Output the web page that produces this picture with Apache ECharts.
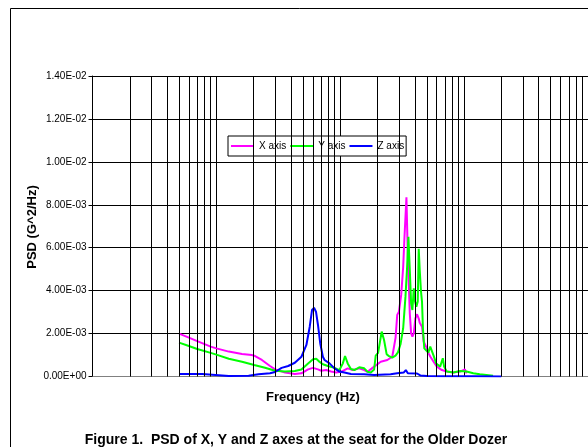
<!DOCTYPE html>
<html>
<head>
<meta charset="utf-8">
<script src="https://cdn.jsdelivr.net/npm/echarts@6/dist/echarts.min.js"></script>
<style>
html,body{margin:0;padding:0;background:#fff;}
#chart{width:588px;height:447px;}
</style>
</head>
<body>
<div id="chart"></div>
<script>
// ---- data (frequency in Hz, PSD in G^2/Hz) ----
const seriesNames = ['X axis', 'Y axis', 'Z axis'];

const xFreq = [0.5,0.6,0.7,0.9,1.0,1.26,1.61,1.93,2.02,2.33,2.71,2.98,3.58,4.30,4.86,5.50,6.03,6.61,7.02,7.70,8.44,9.26,10.15,11.48,12.59,14.24,15.62,16.60,18.78,21.21,23.99,26.30,27.14,27.95,28.84,29.76,30.65,31.05,32.21,33.00,34.22,35.12,36.43,37.33,38.23,39.23,40.40,41.69,43.01,43.81,45.71,47.16,48.57,50.12,51.71,53.26,54.95,56.69,60.26,66.07,72.44,81.94,92.56,101.5,104.7];
const xPSD = [2.00e-3,1.81e-3,1.65e-3,1.39e-3,1.31e-3,1.16e-3,1.05e-3,1.00e-3,0.97e-3,0.77e-3,0.49e-3,0.33e-3,0.19e-3,0.12e-3,0.15e-3,0.33e-3,0.40e-3,0.33e-3,0.27e-3,0.30e-3,0.23e-3,0.19e-3,0.22e-3,0.38e-3,0.30e-3,0.38e-3,0.30e-3,0.22e-3,0.46e-3,0.69e-3,0.77e-3,0.92e-3,1.00e-3,1.80e-3,2.87e-3,3.02e-3,3.10e-3,3.80e-3,5.10e-3,6.50e-3,8.35e-3,5.60e-3,2.94e-3,2.01e-3,1.86e-3,2.01e-3,2.71e-3,2.90e-3,2.70e-3,2.50e-3,2.32e-3,1.62e-3,1.55e-3,1.31e-3,1.08e-3,0.93e-3,0.85e-3,0.69e-3,0.46e-3,0.30e-3,0.23e-3,0.19e-3,0.23e-3,0.33e-3,0.15e-3];

const yFreq = [0.5,0.6,0.7,0.9,1.0,1.26,1.61,2.02,2.47,2.98,3.58,4.30,4.86,5.50,6.03,6.40,6.82,7.24,7.94,8.99,9.85,10.47,10.93,11.48,12.20,12.99,14.24,14.67,15.62,16.60,17.64,18.78,19.33,20.21,20.97,21.60,22.57,23.68,24.75,26.30,27.95,29.21,30.65,32.21,33.61,34.67,35.51,36.43,37.33,38.23,39.23,40.18,41.16,42.23,43.01,43.81,44.87,45.71,46.56,47.69,49.48,51.33,53.26,54.95,56.69,59.48,64.03,67.30,68.93,72.44,81.94,92.56,104.7,118.5,133.8,151.4,171.2];
const yPSD = [1.58e-3,1.42e-3,1.28e-3,1.10e-3,1.02e-3,0.83e-3,0.69e-3,0.54e-3,0.41e-3,0.27e-3,0.23e-3,0.26e-3,0.33e-3,0.61e-3,0.80e-3,0.83e-3,0.68e-3,0.57e-3,0.49e-3,0.40e-3,0.30e-3,0.60e-3,0.955e-3,0.61e-3,0.35e-3,0.30e-3,0.43e-3,0.46e-3,0.38e-3,0.22e-3,0.19e-3,0.33e-3,0.97e-3,1.10e-3,1.65e-3,2.09e-3,1.70e-3,1.04e-3,0.95e-3,0.88e-3,0.97e-3,1.12e-3,1.50e-3,2.25e-3,3.72e-3,5.12e-3,6.51e-3,4.96e-3,3.41e-3,3.10e-3,4.11e-3,3.49e-3,3.25e-3,3.49e-3,5.95e-3,4.96e-3,3.95e-3,3.49e-3,2.17e-3,1.31e-3,1.23e-3,1.11e-3,1.39e-3,1.31e-3,0.97e-3,0.61e-3,0.46e-3,0.85e-3,0.46e-3,0.23e-3,0.19e-3,0.26e-3,0.23e-3,0.15e-3,0.10e-3,0.07e-3,0.04e-3];

const zFreq = [0.5,0.6,0.77,0.985,1.26,1.82,2.19,2.71,2.98,3.36,3.80,4.30,4.86,5.33,5.67,5.92,6.14,6.37,6.61,6.89,7.24,7.47,7.70,8.19,8.99,9.85,10.80,12.20,15.62,18.78,25.49,28.84,32.63,33.84,35.12,41.69,44.30,50.12,68.17,125.9,199.5];
const zPSD = [0.12e-3,0.12e-3,0.12e-3,0.07e-3,0.02e-3,0.04e-3,0.10e-3,0.15e-3,0.21e-3,0.40e-3,0.49e-3,0.64e-3,0.92e-3,1.47e-3,2.32e-3,3.10e-3,3.20e-3,3.02e-3,2.40e-3,1.55e-3,0.92e-3,0.77e-3,0.74e-3,0.61e-3,0.38e-3,0.23e-3,0.19e-3,0.12e-3,0.10e-3,0.07e-3,0.10e-3,0.15e-3,0.19e-3,0.30e-3,0.15e-3,0.14e-3,0.05e-3,0.02e-3,0.01e-3,0.01e-3,0.0];

const decades = [0.1, 1, 10, 100];
const minorMultipliers = [2, 3, 4, 5, 6, 7, 8, 9];

const yMin = 0, yMax = 0.014, yStep = 0.002;
const xMin = 0.1, xMax = 1000;

// ---- build ----
function zip(f, v) { return f.map((x, i) => [x, v[i]]); }
function fmtExp(v) {
  const parts = Number(v).toExponential(2).split('e');
  const sign = parts[1][0];
  const digits = parts[1].slice(1).padStart(2, '0');
  return parts[0] + 'E' + sign + digits;
}
const minorLines = [];
decades.forEach(d => minorMultipliers.forEach(m => minorLines.push({ xAxis: +(d * m).toPrecision(6) })));

const FONT = '"Liberation Sans", Arial, sans-serif';
const chart = echarts.init(document.getElementById('chart'), null, { renderer: 'canvas' });

const lineSeries = (name, data, color) => ({
  name, type: 'line', data, showSymbol: false, symbol: 'none',
  lineStyle: { color, width: 2 }, itemStyle: { color },
  z: 3, animation: false
});

chart.setOption({
  animation: false,
  backgroundColor: '#fff',
  grid: { left: 92.5, top: 76, right: -4.5, bottom: 70.5, containLabel: false },
  legend: {
    data: seriesNames,
    left: 228, top: 136,
    orient: 'horizontal',
    icon: 'rect', itemWidth: 23, itemHeight: 2, itemGap: 4,
    padding: [5, 2, 5, 3],
    borderColor: '#000', borderWidth: 1, backgroundColor: '#fff',
    textStyle: { fontFamily: FONT, fontSize: 10, color: '#000' }
  },
  xAxis: {
    type: 'log', logBase: 10, min: xMin, max: xMax,
    axisLine: { show: true, lineStyle: { color: '#808080', width: 1 } },
    axisTick: { show: false },
    axisLabel: { show: false },
    splitLine: { show: true, lineStyle: { color: '#000', width: 1 } },
    minorTick: { show: false }, minorSplitLine: { show: false }
  },
  yAxis: {
    type: 'value', min: yMin, max: yMax, interval: yStep,
    axisLine: { show: true, lineStyle: { color: '#000', width: 1 } },
    axisTick: { show: true, inside: false, length: 4, lineStyle: { color: '#000' } },
    axisLabel: { formatter: fmtExp, fontFamily: FONT, fontSize: 10, color: '#000', margin: 6 },
    splitLine: { show: true, lineStyle: { color: '#000', width: 1 } }
  },
  graphic: [
    { type: 'rect', shape: { x: 10.5, y: 8.5, width: 700, height: 600 },
      style: { fill: 'none', stroke: '#000', lineWidth: 1 }, silent: true, z: -10 },
    { type: 'text', x: 32, y: 227, rotation: Math.PI / 2,
      style: { text: 'PSD (G^2/Hz)', font: 'bold 13px ' + FONT, fill: '#000', align: 'center', verticalAlign: 'middle' } },
    { type: 'text', x: 313, y: 397,
      style: { text: 'Frequency (Hz)', font: 'bold 13px ' + FONT, fill: '#000', align: 'center', verticalAlign: 'middle' } },
    { type: 'text', x: 296, y: 440,
      style: { text: 'Figure 1.  PSD of X, Y and Z axes at the seat for the Older Dozer', font: 'bold 14px ' + FONT, fill: '#000', align: 'center', verticalAlign: 'middle' } }
  ],
  series: [
    { name: 'grid-minor', type: 'line', data: [], z: 1, silent: true,
      markLine: { silent: true, symbol: ['none', 'none'], label: { show: false },
        lineStyle: { color: '#000', width: 1, type: 'solid' }, animation: false,
        data: minorLines } },
    lineSeries(seriesNames[0], zip(xFreq, xPSD), '#FF00FF'),
    lineSeries(seriesNames[1], zip(yFreq, yPSD), '#00FF00'),
    lineSeries(seriesNames[2], zip(zFreq, zPSD), '#0000FF')
  ]
});
</script>
</body>
</html>
